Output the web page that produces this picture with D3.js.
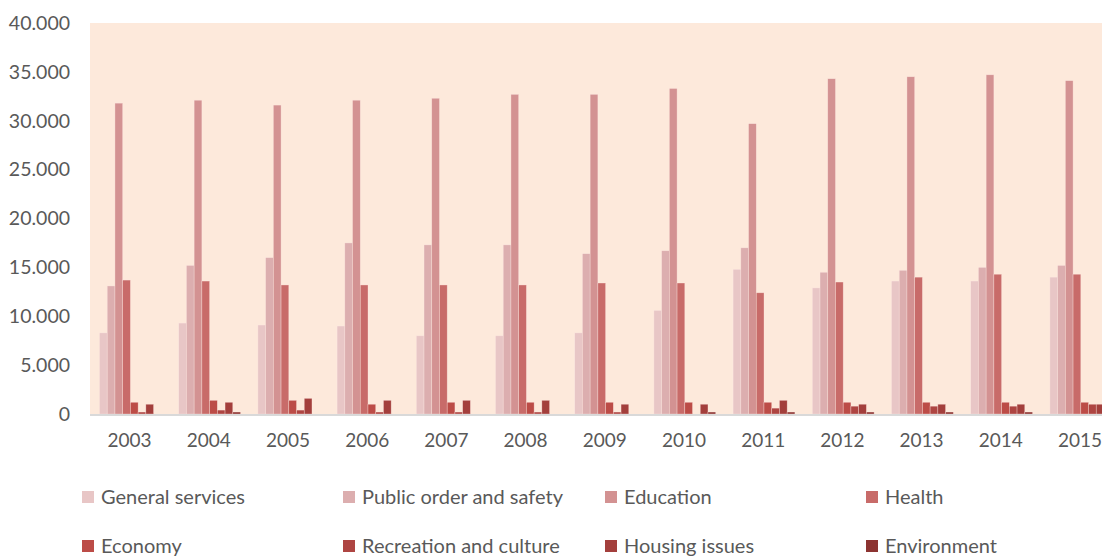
<!DOCTYPE html>
<html>
<head>
<meta charset="utf-8">
<script src="https://cdn.jsdelivr.net/npm/d3@7"></script>
<style>
  html, body { margin: 0; padding: 0; background: #ffffff; }
  svg { display: block; }
  text { font-family: Lato, "Open Sans", sans-serif; fill: #595959; }
</style>
</head>
<body>
<svg id="chart" width="1102" height="558"></svg>
<script>
const years = ["2003","2004","2005","2006","2007","2008","2009","2010","2011","2012","2013","2014","2015"];
const seriesNames = ["General services","Public order and safety","Education","Health","Economy","Recreation and culture","Housing issues","Environment"];
const generalServices = [8300, 9300, 9100, 9000, 8000, 8000, 8300, 10600, 14800, 12900, 13600, 13600, 14000];
const publicOrder     = [13100, 15200, 16000, 17500, 17300, 17300, 16400, 16700, 17000, 14500, 14700, 15000, 15200];
const education       = [31800, 32100, 31600, 32100, 32300, 32700, 32700, 33300, 29700, 34300, 34500, 34700, 34100];
const health          = [13700, 13600, 13200, 13200, 13200, 13200, 13400, 13400, 12400, 13500, 14000, 14300, 14300];
const economy         = [1200, 1400, 1400, 1000, 1200, 1200, 1200, 1200, 1200, 1200, 1200, 1200, 1200];
const recreation      = [200, 400, 400, 200, 200, 200, 200, 0, 600, 800, 800, 800, 1000];
const housing         = [1000, 1200, 1600, 1400, 1400, 1400, 1000, 1000, 1400, 1000, 1000, 1000, 1000];
const environment     = [0, 200, 0, 0, 0, 0, 0, 200, 200, 200, 200, 200, 200];
const yTicks = [0, 5000, 10000, 15000, 20000, 25000, 30000, 35000, 40000];

const seriesValues = [generalServices, publicOrder, education, health, economy, recreation, housing, environment];
const colors = ["#E8C6C6", "#DCAEAF", "#D39292", "#C86B69", "#BC4C47", "#AE4542", "#A33F3C", "#8C3331"];

const svg = d3.select("#chart");
const plot = { left: 90, top: 23, bottom: 414, right: 1119.6 };

const x0 = d3.scaleBand().domain(years).range([plot.left, plot.right]).paddingInner(0).paddingOuter(0);
const x1 = d3.scaleBand().domain(seriesNames).range([9.5, 71.3]).padding(0);
const y = d3.scaleLinear().domain([0, 40000]).range([plot.bottom, plot.top]);

// plot background
svg.append("rect")
  .attr("x", plot.left).attr("y", plot.top)
  .attr("width", plot.right - plot.left).attr("height", plot.bottom - plot.top)
  .attr("fill", "#FDE9DB");

// bars
const groups = svg.append("g").selectAll("g")
  .data(years)
  .join("g")
  .attr("transform", d => `translate(${x0(d)},0)`);

groups.selectAll("rect")
  .data((yr, i) => seriesNames.map((s, k) => ({ s, k, v: seriesValues[k][i] })))
  .join("rect")
  .attr("x", d => x1(d.s))
  .attr("y", d => y(d.v))
  .attr("width", x1.bandwidth())
  .attr("height", d => y(0) - y(d.v))
  .attr("fill", d => colors[d.k])
  .attr("stroke", "rgba(255,235,230,0.55)")
  .attr("stroke-width", 0.6);

// baseline
svg.append("line")
  .attr("x1", plot.left).attr("x2", plot.right)
  .attr("y1", y(0) + 1).attr("y2", y(0) + 1)
  .attr("stroke", "#D9D9D9").attr("stroke-width", 2);

// y axis
const fmt = v => v === 0 ? "0" : d3.format(",")(v).replace(/,/g, ".");
const yAxis = d3.axisLeft(y).tickValues(yTicks).tickFormat(fmt).tickSize(0).tickPadding(0);
const yg = svg.append("g").attr("transform", "translate(70,0)").call(yAxis);
yg.select(".domain").remove();
yg.selectAll("text").style("font-size", "19.5px").attr("fill", "#595959").attr("font-family", "Lato, 'Open Sans', sans-serif");

// x axis
const xAxis = d3.axisBottom(x0).tickSize(0).tickPadding(0);
const xg = svg.append("g").attr("transform", `translate(0,${plot.bottom + 19})`).call(xAxis);
xg.select(".domain").remove();
xg.selectAll("text").style("font-size", "19px").attr("fill", "#595959").attr("font-family", "Lato, 'Open Sans', sans-serif");

// legend
const legCols = [82, 343, 605, 866];
const legRows = [497, 546];
const leg = svg.append("g");
seriesNames.forEach((name, k) => {
  const cx = legCols[k % 4], cy = legRows[Math.floor(k / 4)];
  leg.append("rect")
    .attr("x", cx).attr("y", cy - 6).attr("width", 12).attr("height", 12)
    .attr("fill", colors[k]);
  leg.append("text")
    .attr("x", cx + 19).attr("y", cy)
    .attr("dy", "0.35em")
    .style("font-size", "20px")
    .text(name);
});
</script>
</body>
</html>
